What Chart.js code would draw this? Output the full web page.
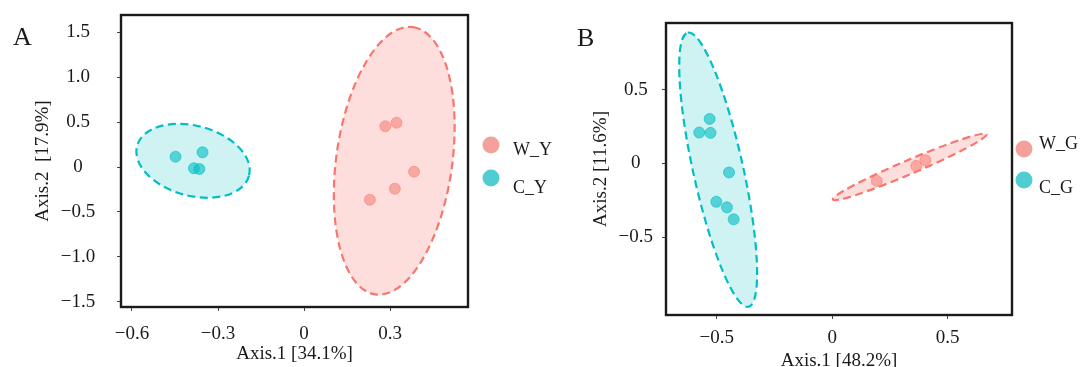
<!DOCTYPE html>
<html>
<head>
<meta charset="utf-8">
<script src="https://cdn.jsdelivr.net/npm/chart.js@4.4.1/dist/chart.umd.min.js"></script>
<style>
    html, body { margin: 0; padding: 0; background: #fff; }
    #wrap { position: relative; width: 1082px; height: 367px; overflow: hidden; }
    .painel { position: absolute; top: 0; height: 367px; }
</style>
</head>
<body>
<div id="wrap">
    <div class="painel" style="left:0;width:570px"><canvas data-js="grafico-a" width="570" height="367"></canvas></div>
    <div class="painel" style="left:541px;width:541px"><canvas data-js="grafico-b" width="541" height="367"></canvas></div>
</div>
<script>
// panel A (Y) points
const wyX = [0.283, 0.322, 0.383, 0.316, 0.229];
const wyY = [0.454, 0.494, -0.052, -0.242, -0.365];
const cyX = [-0.448, -0.354, -0.384, -0.365];
const cyY = [0.115, 0.164, -0.014, -0.022];

// panel B (G) points
const wgX = [0.193, 0.364, 0.404];
const wgY = [-0.118, -0.016, 0.022];
const cgX = [-0.531, -0.576, -0.527, -0.447, -0.502, -0.456, -0.427];
const cgY = [0.301, 0.209, 0.207, -0.061, -0.259, -0.297, -0.378];

// ellipses: centre x, centre y, semi-axis 1 (dx, dy), semi-axis 2 (dx, dy)
const wyElipse = [0.314, 0.069, 0.0655, 1.490, 0.200, -0.090];
const cyElipse = [-0.387, 0.069, 0.195, -0.167, -0.0316, -0.377];
const wgElipse = [0.336, -0.023, 0.333, 0.221, 0.0118, -0.0435];
const cgElipse = [-0.494, -0.042, -0.1316, 0.927, 0.1056, 0.0365];

// ticks
const ticksAx = [-0.6, -0.3, 0, 0.3];
const rotulosAx = ['\u22120.6', '\u22120.3', '0', '0.3'];
const ticksAy = [-1.5, -1.0, -0.5, 0, 0.5, 1.0, 1.5];
const rotulosAy = ['\u22121.5', '\u22121.0', '\u22120.5', '0', '0.5', '1.0', '1.5'];
const ticksBx = [-0.5, 0, 0.5];
const rotulosBx = ['\u22120.5', '0', '0.5'];
const ticksBy = [-0.5, 0, 0.5];
const rotulosBy = ['\u22120.5', '0', '0.5'];

const fonte = '"Liberation Serif", "Times New Roman", serif';
const cores = {
    vermelho: '#F8766D',
    vermelhoPonto: 'rgba(246, 122, 112, 0.55)',
    vermelhoFundo: 'rgba(253, 220, 219, 0.95)',
    vermelhoLegenda: '#F5A19B',
    ciano: '#00BFC4',
    cianoPonto: 'rgba(0, 190, 195, 0.6)',
    cianoFundo: 'rgba(204, 241, 242, 0.95)',
    cianoLegenda: '#4FCDD1',
}

function pontos(xs, ys) {
    return xs.map((x, i) => ({ x: x, y: ys[i] }));
}

function serie(rotulo, xs, ys, cor, borda) {
    return {
        label: rotulo,
        data: pontos(xs, ys),
        backgroundColor: cor,
        borderColor: borda,
        borderWidth: 1,
        pointRadius: 5.5,
        pointHoverRadius: 5.5,
        showLine: false,
    };
}

function eixo(min, max, valores, rotulos, titulo, extra) {
    return {
        type: 'linear',
        min: min,
        max: max,
        afterBuildTicks: (scale) => { scale.ticks = valores.map(v => ({ value: v })); },
        afterFit: (scale) => {
            extra.afterFit(scale);
            // the box is placed by hand, so no extra room for label overflow
            scale.paddingTop = 0;
            scale.paddingBottom = 0;
            scale.paddingLeft = 0;
            scale.paddingRight = 0;
        },
        grid: { display: true, drawOnChartArea: false, drawTicks: true, tickLength: 4, color: '#444', lineWidth: 1 },
        border: { display: false },
        ticks: {
            callback: (v, i) => rotulos[i],
            font: { family: fonte, size: 19 },
            color: '#1a1a1a',
            padding: extra.padding,
            crossAlign: extra.alinhamento,
            autoSkip: false,
            maxRotation: 0,
        },
        title: {
            display: true,
            text: titulo,
            font: { family: fonte, size: 19, lineHeight: 1.2 },
            color: '#1a1a1a',
            padding: extra.tituloPadding,
        },
    };
}

const desenhos = {
    id: 'desenhos',
    beforeDatasetsDraw(chart, args, opts) {
        const { ctx, scales: { x, y } } = chart;
        opts.elipses.forEach((e) => {
            const [cx, cy, ax, ay, bx, by] = e.valores;
            const px = x.getPixelForValue(cx);
            const py = y.getPixelForValue(cy);
            const ux = x.getPixelForValue(cx + ax) - px;
            const uy = y.getPixelForValue(cy + ay) - py;
            const vx = x.getPixelForValue(cx + bx) - px;
            const vy = y.getPixelForValue(cy + by) - py;
            ctx.save();
            ctx.beginPath();
            ctx.save();
            ctx.transform(ux, uy, vx, vy, px, py);
            ctx.arc(0, 0, 1, 0, Math.PI * 2);
            ctx.closePath();
            ctx.restore();
            ctx.fillStyle = e.fundo;
            ctx.fill();
            ctx.setLineDash([8, 4.5]);
            ctx.lineWidth = 2.2;
            ctx.strokeStyle = e.cor;
            ctx.stroke();
            ctx.restore();
        });
    },
    afterDraw(chart, args, opts) {
        const { ctx, chartArea } = chart;
        ctx.save();
        ctx.lineWidth = 2.4;
        ctx.strokeStyle = '#1a1a1a';
        ctx.strokeRect(chartArea.left, chartArea.top, chartArea.right - chartArea.left, chartArea.bottom - chartArea.top);

        // legend
        chart.data.datasets.forEach((ds, i) => {
            ctx.beginPath();
            ctx.arc(opts.legenda.x, opts.legenda.y[i], 8.5, 0, Math.PI * 2);
            ctx.fillStyle = opts.legenda.cores[i];
            ctx.fill();
            ctx.fillStyle = '#1a1a1a';
            ctx.font = '18px ' + fonte;
            ctx.textAlign = 'left';
            ctx.textBaseline = 'alphabetic';
            ctx.fillText(ds.label, opts.legenda.textoX, opts.legenda.base[i]);
        });

        // panel letter
        ctx.font = '26px ' + fonte;
        ctx.fillText(opts.letra.texto, opts.letra.x, opts.letra.y);
        ctx.restore();
    }
}

const graficoA = new Chart(document.querySelector('[data-js="grafico-a"]'), {
    type: 'scatter',
    data: {
        datasets: [
            serie('W_Y', wyX, wyY, cores.vermelhoPonto, cores.vermelhoPonto),
            serie('C_Y', cyX, cyY, cores.cianoPonto, cores.cianoPonto),
        ]
    },
    options: {
        responsive: false,
        animation: false,
        events: [],
        layout: { padding: { left: 0, right: 102, top: 15, bottom: 0 } },
        scales: {
            x: eixo(-0.638, 0.571, ticksAx, rotulosAx, 'Axis.1 [34.1%]', {
                padding: 11.6, alinhamento: 'near', tituloPadding: { top: 0, bottom: 1.6 },
                afterFit: (scale) => { scale.height = 60; },
            }),
            y: eixo(-1.561, 1.695, ticksAy, rotulosAy, 'Axis.2  [17.9%]', {
                padding: 21.7, alinhamento: 'center', tituloPadding: { top: 31.6, bottom: 0 },
                afterFit: (scale) => { scale.width = 121; },
            }),
        },
        plugins: {
            legend: { display: false },
            tooltip: { enabled: false },
            desenhos: {
                elipses: [
                    { valores: wyElipse, cor: cores.vermelho, fundo: cores.vermelhoFundo },
                    { valores: cyElipse, cor: cores.ciano, fundo: cores.cianoFundo },
                ],
                legenda: { x: 491, y: [145, 178], textoX: 513, base: [155, 193], cores: [cores.vermelhoLegenda, cores.cianoLegenda] },
                letra: { texto: 'A', x: 13, y: 45 },
            }
        }
    },
    plugins: [desenhos],
});

const graficoB = new Chart(document.querySelector('[data-js="grafico-b"]'), {
    type: 'scatter',
    data: {
        datasets: [
            serie('W_G', wgX, wgY, cores.vermelhoPonto, cores.vermelhoPonto),
            serie('C_G', cgX, cgY, cores.cianoPonto, cores.cianoPonto),
        ]
    },
    options: {
        responsive: false,
        animation: false,
        events: [],
        layout: { padding: { left: 0, right: 70, top: 23, bottom: 0 } },
        scales: {
            x: eixo(-0.72, 0.779, ticksBx, rotulosBx, 'Axis.1 [48.2%]', {
                padding: 8, alinhamento: 'near', tituloPadding: { top: 0, bottom: -5.4 },
                afterFit: (scale) => { scale.height = 52; },
            }),
            y: eixo(-1.025, 0.95, ticksBy, rotulosBy, 'Axis.2 [11.6%]', {
                padding: 9, alinhamento: 'center', tituloPadding: { top: 48.6, bottom: 0 },
                afterFit: (scale) => { scale.width = 125; },
            }),
        },
        plugins: {
            legend: { display: false },
            tooltip: { enabled: false },
            desenhos: {
                elipses: [
                    { valores: wgElipse, cor: cores.vermelho, fundo: cores.vermelhoFundo },
                    { valores: cgElipse, cor: cores.ciano, fundo: cores.cianoFundo },
                ],
                legenda: { x: 483, y: [149, 180], textoX: 498, base: [149, 193], cores: [cores.vermelhoLegenda, cores.cianoLegenda] },
                letra: { texto: 'B', x: 36, y: 46 },
            }
        }
    },
    plugins: [desenhos],
});
</script>
</body>
</html>
